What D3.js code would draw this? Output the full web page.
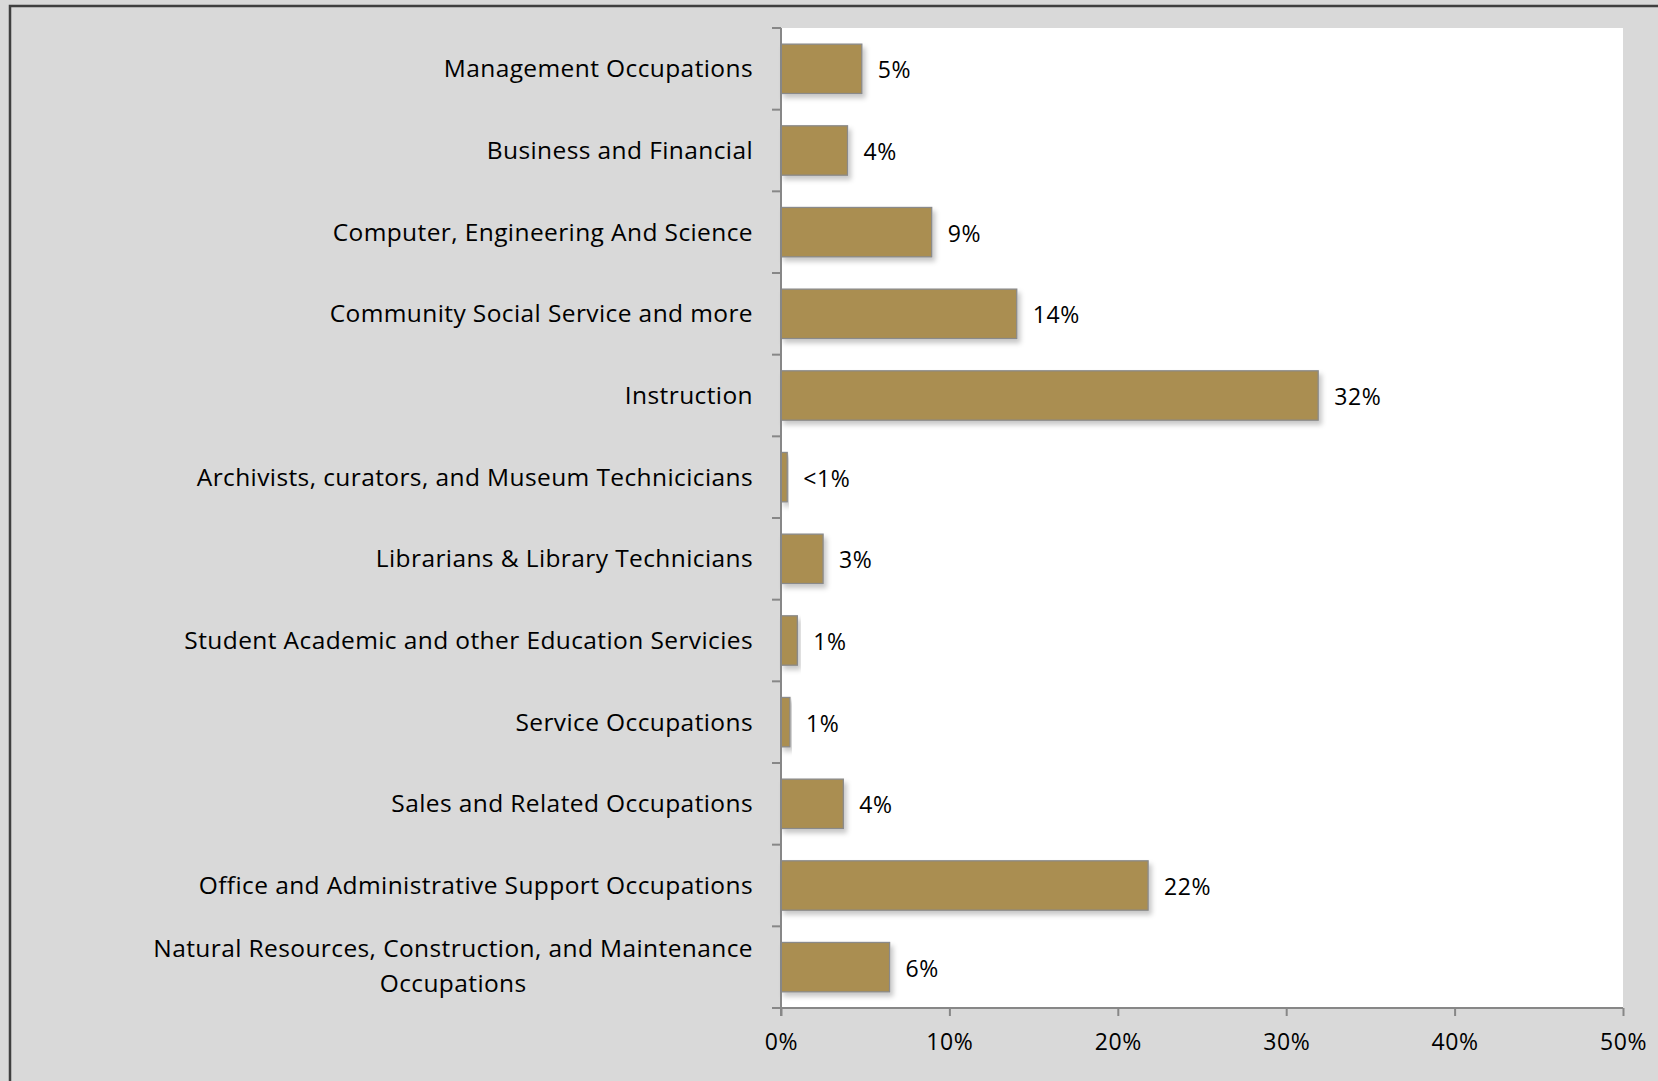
<!DOCTYPE html>
<html>
<head>
<meta charset="utf-8">
<script src="https://cdn.jsdelivr.net/npm/d3@7"></script>
<style>
  html, body { margin: 0; padding: 0; background: #D9D9D9; overflow: hidden; }
  svg { display: block; }
  text { font-family: "Open Sans", Lato, sans-serif; fill: #000; }
</style>
</head>
<body>
<svg id="chart" width="1658" height="1081"></svg>
<script>
// Share of employees by occupational group (percent)
const categories = [
  "Management Occupations",
  "Business and Financial",
  "Computer, Engineering And Science",
  "Community Social Service and more",
  "Instruction",
  "Archivists, curators, and Museum Technicicians",
  "Librarians & Library Technicians",
  "Student Academic and other Education Servicies",
  "Service Occupations",
  "Sales and Related Occupations",
  "Office and Administrative Support Occupations",
  "Natural Resources, Construction, and Maintenance Occupations"
];
const values = [4.8, 3.95, 8.95, 14.0, 31.9, 0.37, 2.5, 0.97, 0.53, 3.7, 21.8, 6.45];
const xTicks = [0, 10, 20, 30, 40, 50];

// Long labels broken into lines
const labelLines = {
  "Natural Resources, Construction, and Maintenance Occupations":
    ["Natural Resources, Construction, and Maintenance", "Occupations"]
};

const W = 1658, H = 1081;
const plot = { left: 781, right: 1623, top: 28, bottom: 1008 };

const svg = d3.select("#chart");

// Outer chart frame
svg.append("rect")
  .attr("x", 10).attr("y", 6)
  .attr("width", W + 20).attr("height", H + 20)
  .attr("fill", "#D9D9D9")
  .attr("stroke", "#3f3f3f").attr("stroke-width", 2.5);

// Soft drop shadow for the bars
const defs = svg.append("defs");
const f = defs.append("filter").attr("id", "shadow")
  .attr("x", "-10%").attr("y", "-20%").attr("width", "130%").attr("height", "160%");
f.append("feDropShadow")
  .attr("dx", 3).attr("dy", 4).attr("stdDeviation", 2.5)
  .attr("flood-color", "#000").attr("flood-opacity", 0.22);

// Plot area
svg.append("rect")
  .attr("x", plot.left).attr("y", plot.top)
  .attr("width", plot.right - plot.left).attr("height", plot.bottom - plot.top)
  .attr("fill", "#fff");

const x = d3.scaleLinear().domain([0, 50]).range([plot.left, plot.right]);
const y = d3.scaleBand().domain(categories).range([plot.top, plot.bottom]).paddingInner(0.395).paddingOuter(0.1975);
const yOuter = d3.scaleBand().domain(categories).range([plot.top, plot.bottom]);

// Bars
svg.append("g").selectAll("rect")
  .data(categories)
  .join("rect")
  .attr("x", x(0))
  .attr("y", d => y(d))
  .attr("width", (d, i) => x(values[i]) - x(0))
  .attr("height", y.bandwidth())
  .attr("fill", "#AA8E51")
  .attr("stroke", "#8a8a8a")
  .attr("stroke-width", 1.3)
  .attr("filter", "url(#shadow)");

// Value labels
const fmt = v => v < 0.5 ? "<1%" : Math.round(v) + "%";
svg.append("g").selectAll("text")
  .data(categories)
  .join("text")
  .attr("x", (d, i) => x(values[i]) + 16)
  .attr("y", d => y(d) + y.bandwidth() / 2 + 1.5)
  .attr("dy", "0.35em")
  .attr("font-size", 23)
  .attr("letter-spacing", 0.6)
  .text((d, i) => fmt(values[i]));

// Y axis line and tick marks at category boundaries
const axisColor = "#878787";
svg.append("line")
  .attr("x1", plot.left).attr("x2", plot.left)
  .attr("y1", plot.top).attr("y2", plot.bottom + 8)
  .attr("stroke", axisColor).attr("stroke-width", 2);
const boundaries = categories.map(c => yOuter(c)).concat([plot.bottom]);
svg.append("g").selectAll("line")
  .data(boundaries)
  .join("line")
  .attr("x1", plot.left - 9).attr("x2", plot.left)
  .attr("y1", d => d).attr("y2", d => d)
  .attr("stroke", axisColor).attr("stroke-width", 2);

// Category labels
const labelX = plot.left - 28;
svg.append("g").selectAll("text")
  .data(categories)
  .join("text")
  .attr("font-size", 24.5)
  .attr("letter-spacing", 0.4)
  .attr("text-anchor", "end")
  .attr("x", labelX)
  .attr("y", d => yOuter(d) + yOuter.bandwidth() / 2)
  .attr("dy", "0.35em")
  .each(function (d) {
    const lines = labelLines[d];
    const t = d3.select(this);
    if (!lines) { t.text(d); return; }
    t.attr("dy", null);
    const lh = 35;
    const y0 = yOuter(d) + yOuter.bandwidth() / 2 - lh * (lines.length - 1) / 2 - 1;
    // first line right-aligned; following lines centered under it
    t.append("tspan").attr("x", labelX).attr("y", y0).attr("dy", "0.35em").text(lines[0]);
    const w = this.getComputedTextLength();
    for (let k = 1; k < lines.length; k++) {
      t.append("tspan")
        .attr("x", labelX - w / 2)
        .attr("y", y0 + lh * k).attr("dy", "0.35em")
        .attr("text-anchor", "middle")
        .text(lines[k]);
    }
  });

// X axis
const xAxis = d3.axisBottom(x)
  .tickValues(xTicks)
  .tickFormat(d => d + "%")
  .tickSize(8)
  .tickPadding(18);
const gx = svg.append("g")
  .attr("transform", `translate(0,${plot.bottom})`)
  .call(xAxis);
gx.select(".domain").attr("stroke", axisColor).attr("stroke-width", 2)
  .attr("d", `M${plot.left - 9},0H${plot.right}`);
gx.selectAll(".tick line").attr("stroke", axisColor).attr("stroke-width", 2);
gx.selectAll(".tick text")
  .attr("font-size", 23)
  .attr("letter-spacing", 0.6)
  .attr("font-family", "'Open Sans', Lato, sans-serif")
  .attr("fill", "#000");
</script>
</body>
</html>
